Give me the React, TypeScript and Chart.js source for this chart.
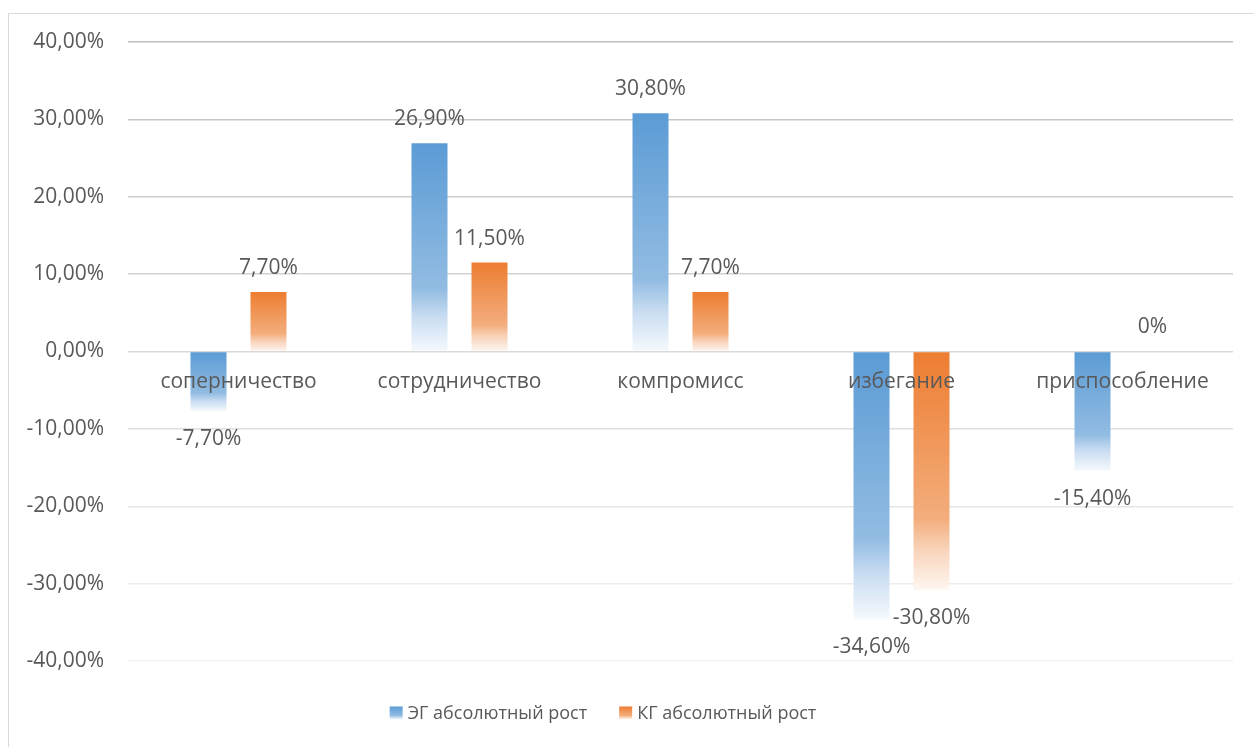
import React, { useEffect, useRef } from "react";
import { Chart, registerables } from "chart.js";

Chart.register(...registerables);

const categories = ["соперничество", "сотрудничество", "компромисс", "избегание", "приспособление"];
const egValues = [-7.7, 26.9, 30.8, -34.6, -15.4];
const kgValues = [7.7, 11.5, 7.7, -30.8, 0];
const seriesNames = ["ЭГ абсолютный рост", "КГ абсолютный рост"];
const Y_MIN = -40;
const Y_MAX = 40;
const Y_STEP = 10;

const TEXT = "#595959";
const FONT = "'Open Sans', 'Noto Sans', sans-serif";

type Stop = [number, string];
const BLUE_STOPS: Stop[] = [
  [0, "#5b9bd5"],
  [0.7, "#92bce2"],
  [0.83, "#c8dcf1"],
  [1, "#f5f9fd"],
];
const ORANGE_STOPS: Stop[] = [
  [0, "#ed7d31"],
  [0.7, "#f3ad7c"],
  [0.83, "#f8d3b9"],
  [1, "#fef6f1"],
];

function fmtPct(v: number, digits = 2) {
  if (v === 0) return "0%";
  return v.toFixed(digits).replace(".", ",") + "%";
}

function barGradient(stops: Stop[]) {
  return (ctx: any) => {
    const chart = ctx.chart;
    if (ctx.type !== "data" || !chart.chartArea || !chart.scales.y) return stops[0][1];
    const v = ctx.raw as number;
    const y = chart.scales.y;
    const top = y.getPixelForValue(Math.max(v, 0));
    const bottom = y.getPixelForValue(Math.min(v, 0));
    if (bottom - top < 1) return stops[0][1];
    const g = chart.ctx.createLinearGradient(0, top, 0, bottom);
    stops.forEach(([o, c]) => g.addColorStop(o, c));
    return g;
  };
}

const framePlugin = {
  id: "frame",
  beforeDraw(chart: any) {
    const c = chart.ctx;
    c.save();
    c.fillStyle = "#ffffff";
    c.fillRect(0, 0, chart.width, chart.height);
    c.strokeStyle = "#d9d9d9";
    c.lineWidth = 1;
    c.strokeRect(8.5, 13.5, 4000, 4000);
    c.restore();
  },
};

const labelsPlugin = {
  id: "valueLabels",
  afterDatasetsDraw(chart: any) {
    const c = chart.ctx;
    c.save();
    c.font = `21px ${FONT}`;
    c.fillStyle = TEXT;
    c.textAlign = "center";
    c.textBaseline = "middle";
    chart.data.datasets.forEach((ds: any, di: number) => {
      const meta = chart.getDatasetMeta(di);
      meta.data.forEach((el: any, i: number) => {
        const v = ds.data[i] as number;
        const y = v >= 0 ? el.y - 24 : el.y + 28;
        c.fillText(fmtPct(v), el.x, y);
      });
    });
    c.restore();
  },
};

const legendPlugin = {
  id: "customLegend",
  afterDraw(chart: any) {
    const c = chart.ctx;
    c.save();
    c.font = `18px ${FONT}`;
    c.textBaseline = "middle";
    c.textAlign = "left";
    const box = 13;
    const gapText = 5;
    const gapItem = 32;
    const widths = seriesNames.map((n) => c.measureText(n).width);
    const total = widths.reduce((a, w) => a + box + gapText + w, 0) + gapItem * (seriesNames.length - 1);
    let x = 603 - total / 2;
    const cy = 713;
    const stopsList = [BLUE_STOPS, ORANGE_STOPS];
    seriesNames.forEach((n, i) => {
      const top = cy - box / 2;
      const g = c.createLinearGradient(0, top, 0, top + box);
      stopsList[i].forEach(([o, col]) => g.addColorStop(o, col));
      c.fillStyle = g;
      c.fillRect(x, top, box, box);
      c.fillStyle = TEXT;
      c.fillText(n, x + box + gapText, cy + 1);
      x += box + gapText + widths[i] + gapItem;
    });
    c.restore();
  },
};

export default function App() {
  const ref = useRef<HTMLCanvasElement | null>(null);

  useEffect(() => {
    if (!ref.current) return;
    const chart = new Chart(ref.current, {
      type: "bar",
      data: {
        labels: categories,
        datasets: [
          {
            label: seriesNames[0],
            data: egValues,
            backgroundColor: barGradient(BLUE_STOPS),
            borderWidth: 0,
          },
          {
            label: seriesNames[1],
            data: kgValues,
            backgroundColor: barGradient(ORANGE_STOPS),
            borderWidth: 0,
          },
        ],
      },
      options: {
        animation: false,
        responsive: false,
        maintainAspectRatio: false,
        devicePixelRatio: 1,
        datasets: {
          bar: {
            categoryPercentage: 0.543,
            barPercentage: 0.6,
          },
        },
        layout: {
          padding: { top: 42, right: 21, bottom: 86, left: 0 },
        },
        plugins: {
          legend: { display: false },
          tooltip: { enabled: false },
          title: { display: false },
        },
        scales: {
          x: {
            type: "category",
            position: { y: 0 } as any,
            grid: { display: false, drawTicks: false },
            border: { display: false },
            ticks: {
              z: 1,
              autoSkip: false,
              maxRotation: 0,
              minRotation: 0,
              padding: 18,
              color: TEXT,
              font: { family: FONT, size: 21 },
            },
          },
          y: {
            min: Y_MIN,
            max: Y_MAX,
            afterFit: (scale: any) => {
              scale.width = 128;
            },
            grid: {
              drawTicks: false,
              lineWidth: 1.5,
              color: (ctx: any) => {
                const v = ctx.tick ? ctx.tick.value : 0;
                const t = (Y_MAX - v) / (Y_MAX - Y_MIN);
                const g = Math.round(191 + t * (242 - 191));
                return `rgb(${g},${g},${g})`;
              },
            },
            border: { display: false },
            ticks: {
              stepSize: Y_STEP,
              padding: 24,
              color: TEXT,
              font: { family: FONT, size: 21 },
              callback: (v: any) => Number(v).toFixed(2).replace(".", ",") + "%",
            },
          },
        },
      },
      plugins: [framePlugin, labelsPlugin, legendPlugin],
    });
    return () => chart.destroy();
  }, []);

  return (
    <div style={{ position: "fixed", left: 0, top: 0, width: 1254, height: 747, background: "#fff" }}>
      <canvas ref={ref} width={1254} height={747} style={{ display: "block", width: 1254, height: 747 }} />
    </div>
  );
}
